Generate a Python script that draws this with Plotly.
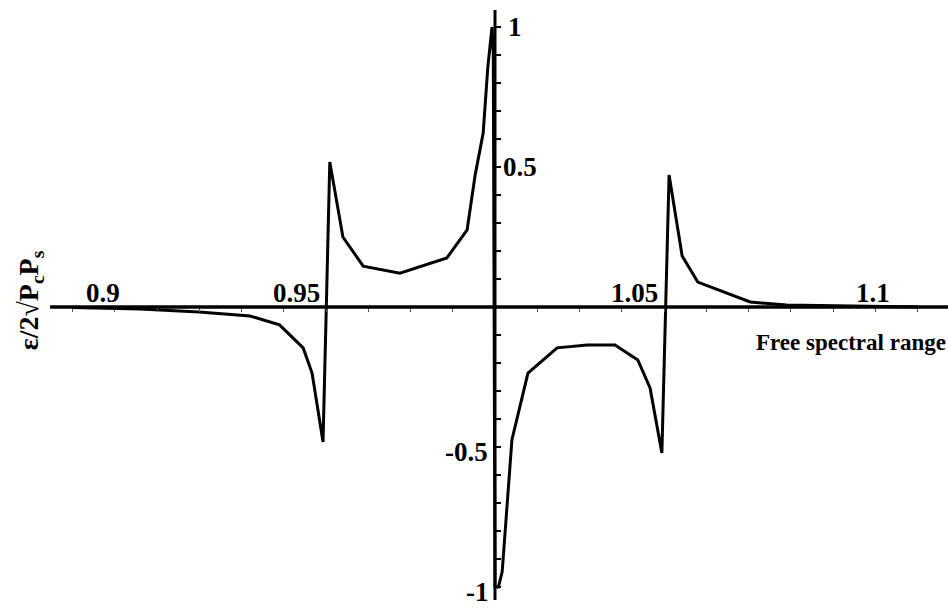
import plotly.graph_objects as go

# Normalised field amplitude across one free spectral range
freq = [0.9, 0.916, 0.930, 0.942, 0.949, 0.9546, 0.9567, 0.9593, 0.9609,
        0.9640, 0.9688, 0.9775, 0.9886, 0.9934, 0.9953, 0.9972, 0.9983,
        0.9993, 0.9996, 1.0, 1.0008, 1.0017, 1.004, 1.0078, 1.0147, 1.0218,
        1.0284, 1.0338, 1.0367, 1.0395, 1.0412, 1.0443, 1.048, 1.0604,
        1.069, 1.082, 1.1]
amp = [-0.002, -0.007, -0.018, -0.032, -0.064, -0.146, -0.236, -0.482, 0.518,
       0.25, 0.146, 0.121, 0.175, 0.275, 0.471, 0.621, 0.857,
       1.0, 0.9, -1.0, -1.0, -0.946, -0.475, -0.236, -0.146, -0.136,
       -0.136, -0.189, -0.289, -0.521, 0.471, 0.182, 0.089, 0.018,
       0.007, 0.004, 0.0]

# Axis decorations
x_minor = [round(0.9 + 0.01 * i, 2) for i in range(21)]
y_minor = [round(-1.0 + 0.1 * i, 1) for i in range(21)]
x_labels = ["0.9", "0.95", "1.05", "1.1"]
x_label_pos = [0.9072, 0.9531, 1.0331, 1.0895]
y_labels = ["1", "0.5", "-0.5", "-1"]
y_label_x = [1.0047, 1.0059, 0.99337, 0.99574]
y_label_y = [1.0, 0.5, -0.518, -1.018]

X_RANGE = [0.88284, 1.10722]
Y_RANGE = [-1.075, 1.0964]

fig = go.Figure()
fig.add_trace(go.Scatter(x=freq, y=amp, mode="lines",
                         line=dict(color="black", width=3),
                         hoverinfo="skip", showlegend=False))

# Axes crossing at (1, 0)
fig.add_shape(type="line", x0=0.8947, x1=X_RANGE[1], y0=0, y1=0,
              line=dict(color="black", width=3.5), layer="above")
fig.add_shape(type="line", x0=1.0, x1=1.0, y0=-1.046, y1=1.061,
              line=dict(color="black", width=3), layer="above")

label_font = dict(family="Liberation Serif", size=27, color="black", weight="bold")
for txt, xp in zip(x_labels, x_label_pos):
    fig.add_annotation(x=xp, y=0.05, text=txt, showarrow=False,
                       font=label_font, xanchor="center", yanchor="middle")
for txt, xp, yp in zip(y_labels, y_label_x, y_label_y):
    fig.add_annotation(x=xp, y=yp, text=txt, showarrow=False,
                       font=label_font, xanchor="center", yanchor="middle")

fig.add_annotation(x=1.0, xref="paper", y=-0.128, text="Free spectral range",
                   showarrow=False, xanchor="right", yanchor="middle",
                   font=dict(family="Liberation Serif", size=23, color="black",
                             weight="bold"))
fig.add_annotation(x=0.032, xref="paper", y=0.025, text="ε/2√P<sub>c</sub>P<sub>s</sub>",
                   textangle=-90, showarrow=False, xanchor="center", yanchor="middle",
                   font=dict(family="Liberation Serif", size=28, color="black",
                             weight="bold"))

fig.update_layout(
    width=948, height=608,
    margin=dict(l=0, r=0, t=0, b=0),
    paper_bgcolor="white", plot_bgcolor="white",
    xaxis=dict(range=X_RANGE, showgrid=False, zeroline=False, showline=False,
               anchor="free", position=1 - 307 / 608,
               tickvals=x_minor, ticks="outside", ticklen=4, tickwidth=1,
               tickcolor="#555", showticklabels=False, fixedrange=True),
    yaxis=dict(range=Y_RANGE, showgrid=False, zeroline=False, showline=False,
               anchor="free", position=495 / 948, side="right",
               tickvals=y_minor, ticks="outside", ticklen=5, tickwidth=1.5,
               tickcolor="black", showticklabels=False, fixedrange=True),
)

fig.write_html("out.html")
